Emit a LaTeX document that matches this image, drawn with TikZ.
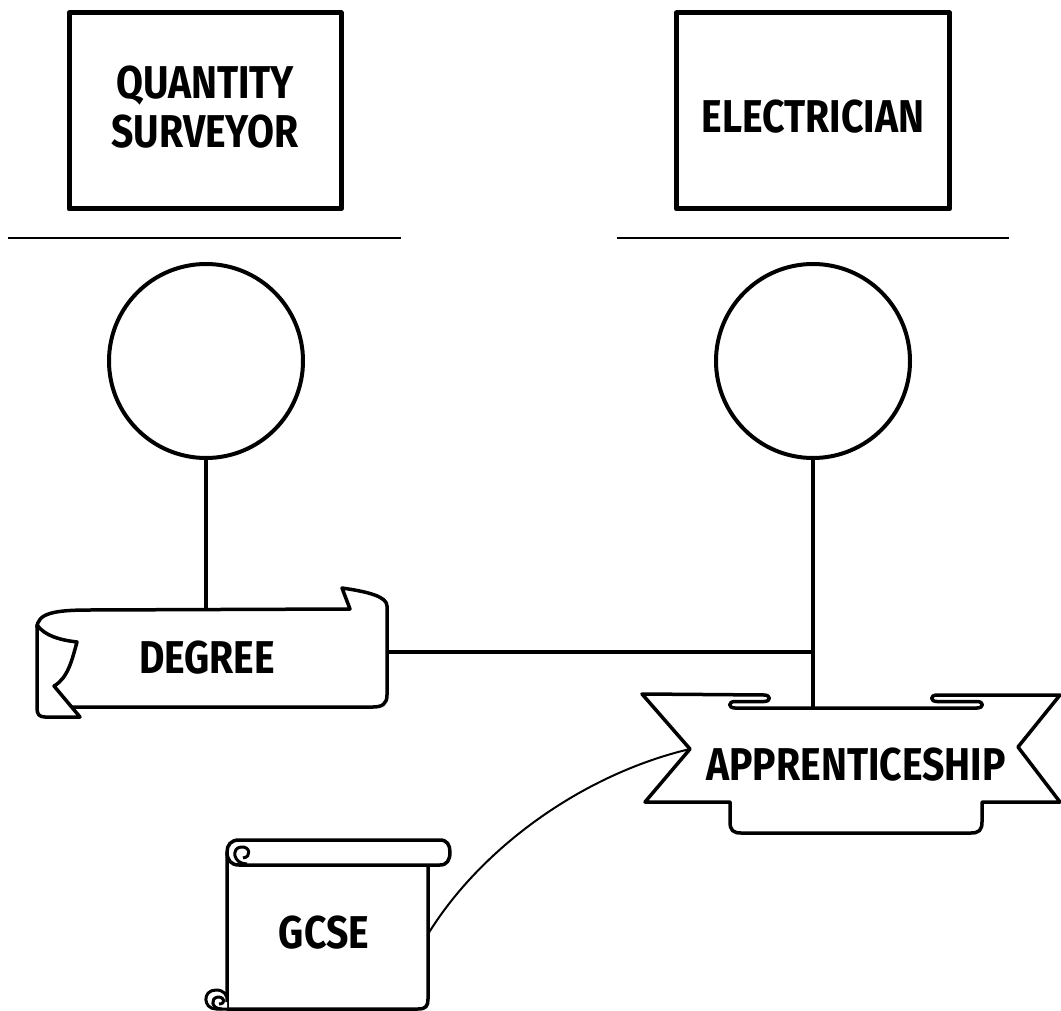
\documentclass[tikz,border=0pt]{standalone}
\usepackage{fontspec}
\setmainfont{Fira Sans}[FakeStretch=0.85]
\begin{document}
\begin{tikzpicture}[x=1pt, y=-1pt, line join=round,
	job/.style = {draw, line width=5pt, minimum width=272pt, minimum height=196pt, align=center, font=\fontsize{46}{49}\selectfont\bfseries},
	ring/.style = {draw, circle, line width=4pt, minimum size=194pt, inner sep=0pt},
	tag/.style = {inner sep=0pt, font=\fontsize{46}{50}\selectfont\bfseries},
	rule/.style = {line width=2.5pt},
	link/.style = {line width=3.2pt},
	band/.style = {line width=3.5pt, fill=white}]

		\useasboundingbox (0,0) rectangle (1061,1011);

		\node[job] (qs) at (205,111) {\raisebox{4pt}[\height][\depth]{QUANTITY}\\\raisebox{4pt}[\height][\depth]{SURVEYOR}};
		\node[job, minimum width=273pt] (el) at (813,111) {\raisebox{-6pt}[\height][\depth]{ELECTRICIAN}};
		\draw[rule] (8,238) -- (401,238);
		\draw[rule] (617,238) -- (1009,238);

		\node[ring] (qsc) at (206,361) {};
		\node[ring] (ec) at (813,361) {};

		\draw[band] (37,628) .. controls (37,613) and (55,610) .. (90,610) -- (350,609) -- (342,588) .. controls (370,592) and (387,597) .. (387,606) -- (387,695) .. controls (387,704) and (382,707) .. (373,707) -- (72,707);
		\draw[band] (37,625) .. controls (45,636) and (60,640) .. (77,642) .. controls (72,660) and (68,678) .. (54,686) -- (80,717) -- (45,717) .. controls (39,717) and (37,714) .. (37,708) -- cycle;

		\draw[band] (642,694) -- (764,695) .. controls (771,695) and (771,701.5) .. (764,701.5) -- (735,701.5) .. controls (728,701.5) and (728,708) .. (735,708) -- (977,708) .. controls (984,708) and (984,701.5) .. (977,701.5) -- (937,701.5) .. controls (930,701.5) and (930,695) .. (937,695) -- (1060,695) -- (1018,747) -- (1060,802) -- (982,802) -- (982,822) .. controls (982,830) and (979,833) .. (971,833) -- (741,833) .. controls (733,833) and (730,830) .. (730,822) -- (730,802) -- (645,802) -- (690,749) -- cycle;

		\draw[band] (227,852) -- (227,1009) -- (418,1009) .. controls (426,1009) and (428,1006) .. (428,999) -- (428,865);
		\draw[band] (239,840) -- (440,840) .. controls (447,840) and (450,845) .. (450,852) .. controls (450,860) and (447,865) .. (440,865) -- (239,865) .. controls (231,865) and (227,860) .. (227,852) .. controls (227,845) and (231,840) .. (239,840) -- cycle;
		\draw[line width=3pt] (247,864) .. controls (233,864) and (231,848) .. (241,847) .. controls (250,846) and (252,857) .. (243,858);
		\draw[line width=3pt, fill=white] (227,1009) -- (216,1009) .. controls (203,1009) and (202,990) .. (216,990) .. controls (224,990) and (228,995) .. (227,1002);
		\draw[line width=3pt] (222,1009) .. controls (211,1009) and (210,998) .. (218,997) .. controls (225,997) and (226,1004) .. (219,1004);

		\node[tag, minimum width=350pt, minimum height=98pt] (deg) at (212,658) {\hspace*{-10pt}DEGREE};
		\node[tag, minimum width=252pt, minimum height=114pt] (app) at (856,765) {APPRENTICESHIP};
		\node[tag, minimum width=201pt, minimum height=144pt] (gcse) at (328,933) {\hspace*{-8pt}GCSE};
		\coordinate (joint) at (813,652);
		\coordinate (notch) at (690,749);

		\draw[link] (qsc.south) -- (qsc.south |- deg.north);
		\draw[link] (ec.south) -- (ec.south |- app.north);
		\draw[link] (deg.east |- joint) -- (joint);
		\draw[line width=2pt] (gcse.east) .. controls (480,850) and (580,775) .. (notch);
	\end{tikzpicture}
\end{document}
